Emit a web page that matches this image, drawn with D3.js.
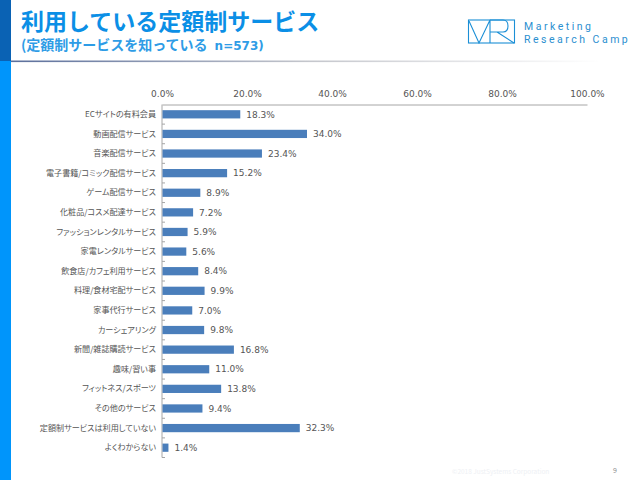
<!DOCTYPE html>
<html>
<head>
<meta charset="utf-8">
<script src="https://cdn.jsdelivr.net/npm/d3@7"></script>
<style>
  html, body { margin: 0; padding: 0; background: #fff; }
  svg { display: block; }
  text { font-family: "Noto Sans CJK JP", "Noto Sans", sans-serif; font-feature-settings: "palt"; }
</style>
</head>
<body>
<div id="chart"></div>
<script>
const categories = [
  'ECサイトの有料会員', '動画配信サービス', '音楽配信サービス', '電子書籍/コミック配信サービス',
  'ゲーム配信サービス', '化粧品/コスメ配達サービス', 'ファッションレンタルサービス', '家電レンタルサービス',
  '飲食店/カフェ利用サービス', '料理/食材宅配サービス', '家事代行サービス', 'カーシェアリング',
  '新聞/雑誌購読サービス', '趣味/習い事', 'フィットネス/スポーツ', 'その他のサービス',
  '定額制サービスは利用していない', 'よくわからない'
];
const values = [18.3, 34.0, 23.4, 15.2, 8.9, 7.2, 5.9, 5.6, 8.4, 9.9, 7.0, 9.8, 16.8, 11.0, 13.8, 9.4, 32.3, 1.4];
const xTicks = [0, 20, 40, 60, 80, 100];

const svg = d3.select('#chart').append('svg').attr('width', 640).attr('height', 480);

// page frame
const defs = svg.append('defs');
const rule = defs.append('linearGradient').attr('id', 'rule');
rule.append('stop').attr('offset', '0%').attr('stop-color', '#5b6f9c');
rule.append('stop').attr('offset', '50%').attr('stop-color', '#c4c6cc');
rule.append('stop').attr('offset', '100%').attr('stop-color', '#ffffff');

svg.append('rect').attr('x', 0).attr('y', 0).attr('width', 11).attr('height', 61).attr('fill', '#0a62b4');
svg.append('rect').attr('x', 0).attr('y', 61).attr('width', 11).attr('height', 419).attr('fill', '#0095fb');
svg.append('rect').attr('x', 11).attr('y', 60.5).attr('width', 590).attr('height', 1.6).attr('fill', 'url(#rule)');

svg.append('text').attr('x', 21).attr('y', 30).attr('font-size', 23).attr('font-weight', 700)
  .style('font-feature-settings', 'normal')
  .attr('fill', '#0b8fe6').text('利用している定額制サービス');
const sub = svg.append('text').attr('x', 21).attr('y', 50).attr('font-size', 14).attr('font-weight', 700)
  .style('font-feature-settings', 'normal')
  .attr('fill', '#2e9ce6');
sub.append('tspan').text('(定額制サービスを知っている');
sub.append('tspan').attr('dx', 7).style('font-family', '"DejaVu Sans"').attr('font-size', 12).text('n=573)');

// logo
const logo = svg.append('g').attr('fill', 'none').attr('stroke', '#1b8fd6').attr('stroke-width', 1.1);
logo.append('rect').attr('x', 468.5).attr('y', 20).attr('width', 46).attr('height', 23);
logo.append('path').attr('d', 'M469 21L479 43L490 20V43M490 20H503Q508 20 508 26Q508 32 503 32H490M497 32L514 43');

svg.append('text').attr('x', 524).attr('y', 30).attr('font-size', 10.5)
  .attr('letter-spacing', 2.5).attr('fill', '#2b8fd0').text('Marketing')
  .style('font-family', 'Roboto');
svg.append('text').attr('x', 524).attr('y', 43).attr('font-size', 10.5)
  .attr('letter-spacing', 2.5).attr('fill', '#2b8fd0').text('Research Camp')
  .style('font-family', 'Roboto');

// chart
const x = d3.scaleLinear().domain([0, 100]).range([162, 587]);
const y = d3.scaleBand().domain(categories).range([104.5, 457.5]).paddingInner(0.58).paddingOuter(0.29);
const yEdges = d3.scaleLinear().domain([0, categories.length]).range([104.5, 457.5]);

const axisTop = svg.append('g').attr('transform', 'translate(0,104.5)')
  .call(d3.axisTop(x).tickValues(xTicks).tickSize(0).tickPadding(8).tickFormat(d => d.toFixed(1) + '%'));
axisTop.select('.domain').attr('stroke', '#a6a6a6').attr('stroke-width', 1);
axisTop.selectAll('text').attr('font-size', 9).attr('fill', '#555').style('font-family', '"DejaVu Sans"');

const axisLeft = svg.append('g').attr('transform', 'translate(162,0)')
  .call(d3.axisLeft(y).tickSize(0).tickPadding(6));
axisLeft.select('.domain').attr('d', `M0,104.5V457.5`).attr('stroke', '#a6a6a6');
axisLeft.selectAll('text').attr('font-size', 8.1).attr('fill', '#555');

// category separators on the axis
svg.append('g').selectAll('line').data(d3.range(1, categories.length + 1)).join('line')
  .attr('x1', 162).attr('x2', 165)
  .attr('y1', d => yEdges(d)).attr('y2', d => yEdges(d))
  .attr('stroke', '#a6a6a6');

svg.append('g').selectAll('rect').data(values).join('rect')
  .attr('x', x(0) + 0.5)
  .attr('y', (d, i) => y(categories[i]))
  .attr('width', d => x(d) - x(0))
  .attr('height', y.bandwidth())
  .attr('fill', '#4a7ebb');

svg.append('g').selectAll('text').data(values).join('text')
  .attr('x', d => x(d) + 6.5)
  .attr('y', (d, i) => y(categories[i]) + y.bandwidth() / 2)
  .attr('dy', '0.36em')
  .attr('font-size', 9)
  .attr('fill', '#555')
  .style('font-family', '"DejaVu Sans"')
  .text(d => d.toFixed(1) + '%');

// footer
svg.append('text').attr('x', 452).attr('y', 474).attr('font-size', 6.5).attr('fill', '#eef0f4')
  .text('©2018 JustSystems Corporation');
svg.append('text').attr('x', 613).attr('y', 473).attr('font-size', 7).attr('fill', '#8a8a8a').text('9');
</script>
</body>
</html>
